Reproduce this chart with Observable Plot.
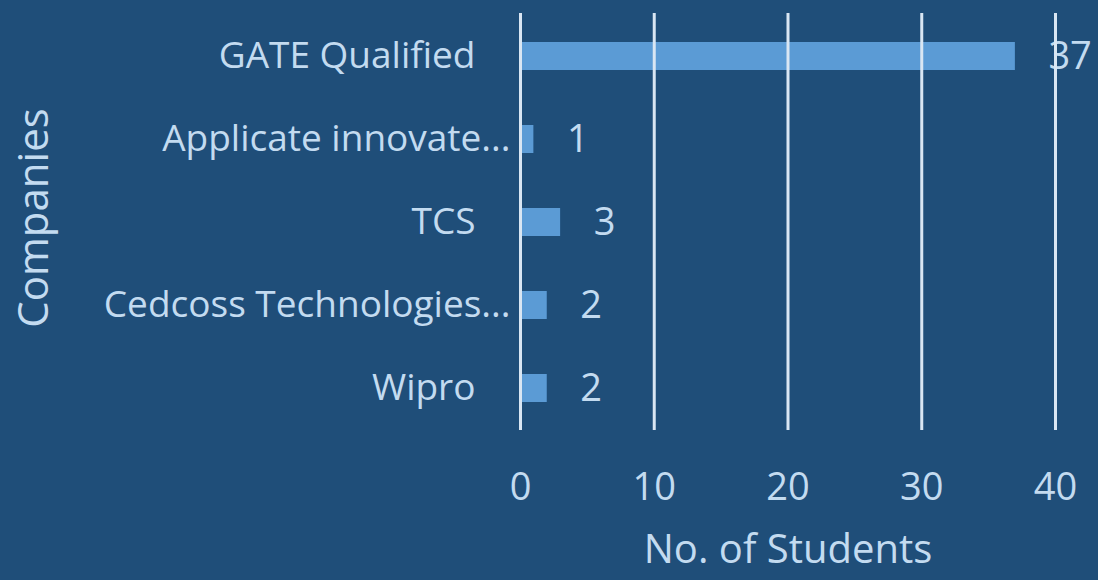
<!DOCTYPE html>
<html>
<head>
<meta charset="utf-8">
<script src="https://cdn.jsdelivr.net/npm/d3@7"></script>
<script src="https://cdn.jsdelivr.net/npm/@observablehq/plot@0.6"></script>
<style>
  html, body { margin: 0; padding: 0; background: #1f4e79; }
  #chart svg { display: block; }
</style>
</head>
<body>
<div id="chart"></div>
<script>
const companies = ["GATE Qualified", "Applicate innovate...", "TCS", "Cedcoss Technologies...", "Wipro"];
const students = [37, 1, 3, 2, 2];
const xTicks = [0, 10, 20, 30, 40];
const xTitle = "No. of Students";
const yTitle = "Companies";

const data = companies.map((c, i) => ({company: c, value: students[i]}));
const truncated = companies.filter(c => c.endsWith("..."));
const full = companies.filter(c => !c.endsWith("..."));

const textColor = "#c3dbf0";
const font = "'Open Sans', sans-serif";

const chart = Plot.plot({
  width: 1098,
  height: 580,
  marginLeft: 520,
  marginRight: 43,
  marginTop: 13,
  marginBottom: 150,
  style: {background: "#1f4e79", fontFamily: font, color: textColor},
  x: {domain: [0, 40], axis: null},
  y: {domain: companies, paddingInner: 0.668, paddingOuter: 0.334, axis: null},
  marks: [
    Plot.barX(data, {x: "value", y: "company", fill: "#5b9bd5"}),
    Plot.text(data, {x: "value", y: "company", text: d => String(d.value), dx: 33, textAnchor: "start", fontSize: 38, fill: textColor}),
    Plot.ruleX(xTicks, {stroke: "#d9e6f3", strokeWidth: 3}),
    Plot.axisY(full, {tickSize: 0, tickPadding: 45, fontSize: 37, fill: textColor, label: null}),
    Plot.axisY(truncated, {tickSize: 0, tickPadding: 10, fontSize: 37, fill: textColor, label: null}),
    Plot.axisX(xTicks, {tickSize: 0, tickPadding: 43, fontSize: 38, fill: textColor, label: null}),
    Plot.text([xTitle], {frameAnchor: "bottom", lineAnchor: "top", dy: 104, fontSize: 40, fill: textColor}),
    Plot.text([yTitle], {frameAnchor: "left", rotate: -90, textAnchor: "middle", lineAnchor: "middle", dx: -486, dy: -4, fontSize: 42, fill: textColor})
  ]
});
document.getElementById("chart").appendChild(chart);
</script>
</body>
</html>
